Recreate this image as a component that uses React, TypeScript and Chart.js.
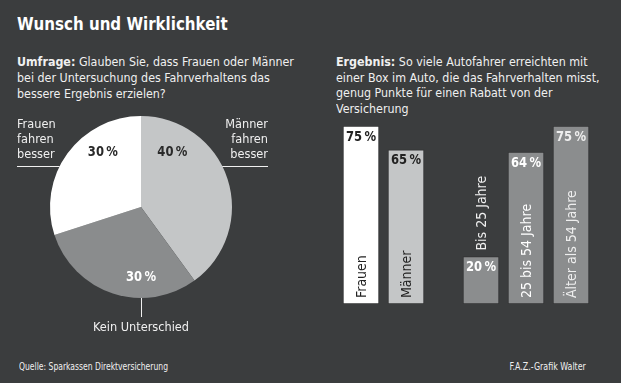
import React, { useEffect, useRef } from "react";
import { Chart, registerables } from "chart.js";
Chart.register(...registerables);

// ---------- data ----------
const TITLE = "Wunsch und Wirklichkeit";
const LEFT_HEAD = "Umfrage:";
const LEFT_TEXT = [
  " Glauben Sie, dass Frauen oder Männer",
  "bei der Untersuchung des Fahrverhaltens das",
  "bessere Ergebnis erzielen?",
];
const RIGHT_HEAD = "Ergebnis:";
const RIGHT_TEXT = [
  " So viele Autofahrer erreichten mit",
  "einer Box im Auto, die das Fahrverhalten misst,",
  "genug Punkte für einen Rabatt von der",
  "Versicherung",
];
const SOURCE = "Quelle: Sparkassen Direktversicherung";
const CREDIT = "F.A.Z.-Grafik Walter";

const pieLabels = ["Männer fahren besser", "Kein Unterschied", "Frauen fahren besser"];
const pieValues = [40, 30, 30];
const pieColors = ["#c4c6c7", "#8a8c8d", "#ffffff"];
const pieTextColors = ["#2a2a2a", "#ffffff", "#2a2a2a"];

const genderLabels = ["Frauen", "Männer"];
const genderValues = [75, 65];
const genderColors = ["#ffffff", "#c4c6c7"];
const genderTextColors = ["#222222", "#222222"];

const ageLabels = ["Bis 25 Jahre", "25 bis 54 Jahre", "Älter als 54 Jahre"];
const ageValues = [20, 64, 75];
const ageColors = ["#8b8d8e", "#8b8d8e", "#8b8d8e"];
const ageTextColors = ["#ffffff", "#ffffff", "#eeeeee"];

// ---------- style ----------
const BG = "#3b3d3e";
const FONT = '"Liberation Sans Narrow", "DejaVu Sans Condensed", "Roboto", sans-serif';
const TXT = "#f0f0f0";

function txt(ctx: CanvasRenderingContext2D, s: string, x: number, y: number, sx: number) {
  ctx.save();
  ctx.translate(x, y);
  ctx.scale(sx, 1);
  ctx.fillText(s, 0, 0);
  ctx.restore();
}

const pct = (v: number) => `${v}\u2009%`;

const piePlugin = {
  id: "pieLabels",
  afterDraw(chart: any) {
    const ctx = chart.ctx as CanvasRenderingContext2D;
    const meta = chart.getDatasetMeta(0);
    const a0 = meta.data[0] as any;
    const { x: cx, y: cy, outerRadius: r } = a0.getProps(["x", "y", "outerRadius"], true);
    ctx.save();
    // percentage labels (angle clockwise from top, fraction of radius)
    const place = [
      [30, 0.69],
      [180, 0.77],
      [325, 0.73],
    ];
    ctx.font = `bold 14px ${FONT}`;
    ctx.textAlign = "center";
    ctx.textBaseline = "middle";
    pieValues.forEach((v, i) => {
      const ang = (place[i][0] * Math.PI) / 180;
      const d = place[i][1] * r;
      ctx.fillStyle = pieTextColors[i];
      txt(ctx, pct(v), cx + d * Math.sin(ang), cy - d * Math.cos(ang), 0.92);
    });
    // external labels
    ctx.strokeStyle = TXT;
    ctx.lineWidth = 1;
    ctx.fillStyle = TXT;
    ctx.font = `13px ${FONT}`;
    const ly = cy - 0.45 * r;
    const edge = Math.sqrt(r * r - (0.45 * r) * (0.45 * r));
    const lh = 15;
    const lyr = Math.round(ly) + 0.5;
    // Frauen (left)
    const fr = pieLabels[2].split(" ");
    ctx.textAlign = "left";
    fr.forEach((w, k) => txt(ctx, w, cx - 124, ly - 41 + k * lh, 0.97));
    ctx.beginPath();
    ctx.moveTo(cx - 124, lyr);
    ctx.lineTo(cx - edge, lyr);
    ctx.stroke();
    // Männer (right)
    const mr = pieLabels[0].split(" ");
    ctx.textAlign = "right";
    mr.forEach((w, k) => txt(ctx, w, cx + 127, ly - 41 + k * lh, 0.97));
    ctx.beginPath();
    ctx.moveTo(cx + edge, lyr);
    ctx.lineTo(cx + 127, lyr);
    ctx.stroke();
    // Kein Unterschied (bottom)
    ctx.beginPath();
    ctx.moveTo(Math.round(cx) + 0.5, cy + r);
    ctx.lineTo(Math.round(cx) + 0.5, cy + r + 19);
    ctx.stroke();
    ctx.textAlign = "center";
    txt(ctx, pieLabels[1], cx, cy + r + 30, 0.97);
    ctx.restore();
  },
};

const barPlugin = {
  id: "barLabels",
  afterDatasetsDraw(chart: any) {
    const ctx = chart.ctx as CanvasRenderingContext2D;
    const meta = chart.getDatasetMeta(0);
    const labels = chart.data.labels as string[];
    const values = chart.data.datasets[0].data as number[];
    const tcol = (chart.options.plugins as any).barLabels.textColors as string[];
    ctx.save();
    meta.data.forEach((bar: any, i: number) => {
      const { x, y, base } = bar.getProps(["x", "y", "base"], true);
      ctx.fillStyle = tcol[i];
      ctx.font = `bold 14px ${FONT}`;
      ctx.textAlign = "center";
      ctx.textBaseline = "middle";
      txt(ctx, pct(values[i]), x, y + 11, 0.92);
      ctx.font = `14px ${FONT}`;
      const w = ctx.measureText(labels[i]).width;
      const inside = base - y - 26 > w + 6;
      ctx.save();
      ctx.translate(x + 1, inside ? base - 6 : y - 6);
      ctx.rotate(-Math.PI / 2);
      ctx.textAlign = "left";
      ctx.fillStyle = inside ? tcol[i] : TXT;
      ctx.fillText(labels[i], 0, 0);
      ctx.restore();
    });
    ctx.restore();
  },
};

function makeBar(canvas: HTMLCanvasElement, labels: string[], values: number[], colors: string[], textColors: string[], pad: any) {
  return new Chart(canvas, {
    type: "bar",
    data: {
      labels,
      datasets: [
        {
          data: values,
          backgroundColor: colors,
          borderColor: "rgba(40,40,40,0.45)",
          borderWidth: 1,
          borderSkipped: false,
          barThickness: 36,
        },
      ],
    },
    options: {
      responsive: false,
      animation: false,
      devicePixelRatio: 1,
      layout: { padding: pad },
      scales: {
        x: { display: false },
        y: { display: false, min: 0, max: 75 },
      },
      plugins: {
        legend: { display: false },
        tooltip: { enabled: false },
        barLabels: { textColors },
      } as any,
    },
    plugins: [barPlugin],
  });
}

export default function App() {
  const pieRef = useRef<HTMLCanvasElement>(null);
  const bar1Ref = useRef<HTMLCanvasElement>(null);
  const bar2Ref = useRef<HTMLCanvasElement>(null);

  useEffect(() => {
    const pie = new Chart(pieRef.current!, {
      type: "pie",
      data: {
        labels: pieLabels,
        datasets: [{ data: pieValues, backgroundColor: pieColors, borderWidth: 0 }],
      },
      options: {
        responsive: false,
        animation: false,
        devicePixelRatio: 1,
        layout: { padding: { left: 50, right: 68, top: 16, bottom: 52 } },
        plugins: { legend: { display: false }, tooltip: { enabled: false } },
      },
      plugins: [piePlugin],
    });
    const b1 = makeBar(bar1Ref.current!, genderLabels, genderValues, genderColors, genderTextColors, {
      left: 8.5, right: 11.5, top: 16, bottom: 6,
    });
    const b2 = makeBar(bar2Ref.current!, ageLabels, ageValues, ageColors, ageTextColors, {
      left: 8.5, right: 16.5, top: 16, bottom: 6,
    });
    return () => {
      pie.destroy();
      b1.destroy();
      b2.destroy();
    };
  }, []);

  const abs = (l: number, t: number): React.CSSProperties => ({ position: "absolute", left: l, top: t });
  const squeeze = (s: number, origin = "left top"): React.CSSProperties => ({
    transform: `scaleX(${s})`,
    transformOrigin: origin,
    whiteSpace: "nowrap",
  });

  return (
    <div
      style={{
        position: "fixed", left: 0, top: 0, width: 621, height: 383, overflow: "hidden",
        background: BG, fontFamily: FONT, color: TXT,
      }}
    >
      <div style={{ ...abs(17, 13), fontSize: 18, fontWeight: "bold", lineHeight: "22px", color: "#fff", ...squeeze(0.93) }}>
        {TITLE}
      </div>
      <div style={{ ...abs(17, 54), fontSize: 13, lineHeight: "16px", ...squeeze(0.95) }}>
        <b>{LEFT_HEAD}</b>
        {LEFT_TEXT.map((t, i) => (
          <React.Fragment key={i}>
            {i > 0 && <br />}
            {t}
          </React.Fragment>
        ))}
      </div>
      <div style={{ ...abs(336, 54), fontSize: 13, lineHeight: "15.5px", ...squeeze(0.95) }}>
        <b>{RIGHT_HEAD}</b>
        {RIGHT_TEXT.map((t, i) => (
          <React.Fragment key={i}>
            {i > 0 && <br />}
            {t}
          </React.Fragment>
        ))}
      </div>
      <canvas ref={pieRef} width={300} height={250} style={{ ...abs(0, 100), width: 300, height: 250 }} />
      <canvas ref={bar1Ref} width={110} height={200} style={{ ...abs(330, 110), width: 110, height: 200 }} />
      <canvas ref={bar2Ref} width={160} height={200} style={{ ...abs(450, 110), width: 160, height: 200 }} />
      <div style={{ ...abs(19, 361), fontSize: 10, lineHeight: "12px", ...squeeze(0.85) }}>{SOURCE}</div>
      <div style={{ position: "absolute", right: 35, top: 361, fontSize: 10, lineHeight: "12px", ...squeeze(0.88, "right top") }}>{CREDIT}</div>
    </div>
  );
}
